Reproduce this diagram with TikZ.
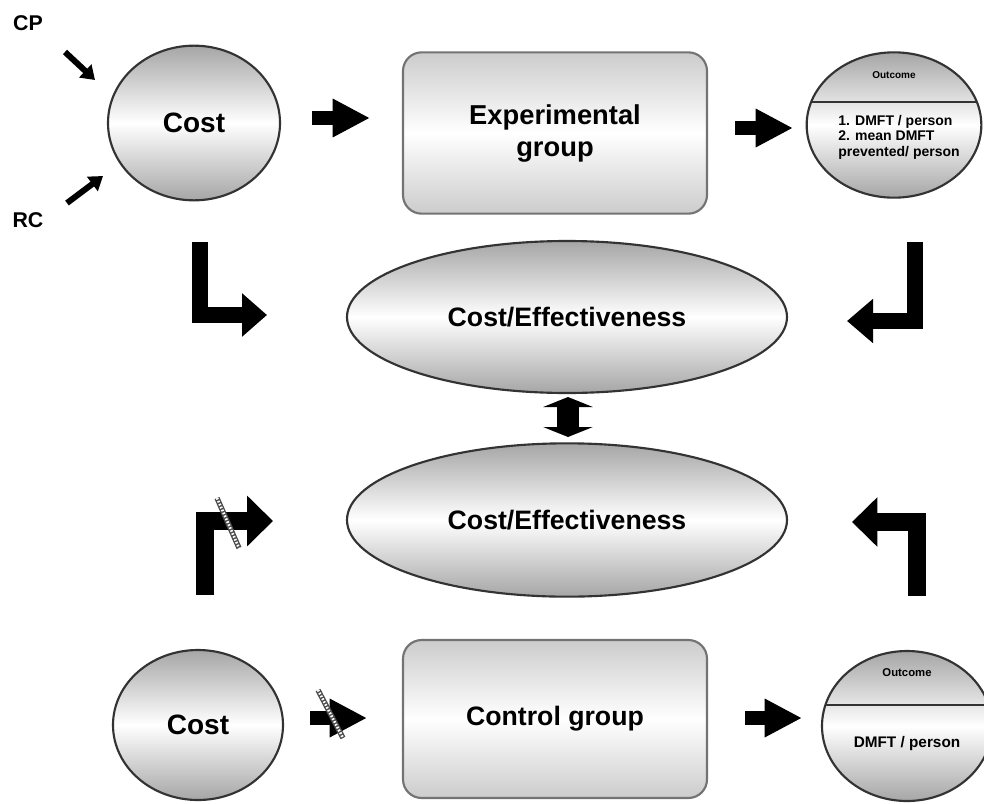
\documentclass[tikz,border=0pt]{standalone}
\usepackage{fontspec}
\setmainfont{Liberation Sans}
\usetikzlibrary{arrows.meta,shapes.geometric}

\tikzset{
  halftone/.style={shading=axis, top color=gray!70, bottom color=gray!70, middle color=white, draw=black!80, line width=1.6pt},
  oval/.style={halftone, ellipse, inner sep=0pt},
  roundbox/.style={halftone, top color=gray!40, bottom color=gray!40, middle color=white, draw=black!55, rectangle, rounded corners=14pt, inner sep=0pt},
  blk/.style={line width=10pt, -{Triangle[length=28pt,width=27pt]}},
  lbar/.style={line width=#1, line join=miter},
  thin arrow/.style={line width=4.5pt, -{Triangle[length=10pt,width=13pt]}},
  strike/.style={line width=4pt, draw=black!70},
  strikedots/.style={line width=2pt, draw=white, dash pattern=on 1.2pt off 1.2pt},
  big/.style={font=\fontsize{21}{24}\selectfont\bfseries},
  mid/.style={font=\fontsize{20}{24}\selectfont\bfseries},
}

\begin{document}
\begin{tikzpicture}[x=0.75pt,y=-0.75pt]
\useasboundingbox (0,0) rectangle (984,803);

% top row
\node[oval, big, minimum width=129pt, minimum height=116pt] (cost1) at (194,123) {Cost};
\node[roundbox, font=\fontsize{20.5}{24}\selectfont\bfseries, align=center, minimum width=228pt, minimum height=121pt] (exp) at (555,133) {Experimental\\group};
\node[oval, minimum width=131pt, minimum height=109pt] (out1) at (894,125) {};
\begin{scope}
  \clip (out1.center) ellipse [x radius=65.5pt, y radius=54.5pt];
  \draw[line width=1.6pt, black!80] (780,102) -- (1000,102);
\end{scope}
\node[font=\fontsize{7.5}{9}\selectfont\bfseries] (out1t) at (894,75) {Outcome};
\node[font=\fontsize{10.5}{11.6}\selectfont\bfseries, align=left] (out1b) at (899,137) {1. DMFT / person\\2. mean DMFT\\prevented/ person};

\node[font=\fontsize{16}{19}\selectfont\bfseries] (cp) at (28,23) {CP};
\node[font=\fontsize{16}{19}\selectfont\bfseries] (rc) at (28,220) {RC};
\coordinate (cpA) at (65,52);  \coordinate (cpB) at (95,80);
\coordinate (rcA) at (67,203); \coordinate (rcB) at (103,176);
\draw[thin arrow] (cpA) -- (cpB);
\draw[thin arrow] (rcA) -- (rcB);

\coordinate (a1s) at (312,118); \coordinate (a1e) at (370,118);
\coordinate (a2s) at (735,128); \coordinate (a2e) at (793,128);
\draw[blk] (a1s) -- (a1e);
\draw[blk] (a2s) -- (a2e);

% effectiveness
\node[oval, mid, minimum width=330pt, minimum height=114pt] (ce1) at (567,317) {Cost/Effectiveness};
\node[oval, mid, minimum width=330pt, minimum height=115pt] (ce2) at (567,520) {Cost/Effectiveness};
\coordinate (dA) at (568,397); \coordinate (dB) at (568,437);
\draw[line width=17pt, {Triangle[length=7.5pt,width=37pt]}-{Triangle[length=7.5pt,width=37pt]}] (dA) -- (dB);

\coordinate (l1s) at (200,242); \coordinate (l1e) at (267,315);
\coordinate (l2s) at (915,242); \coordinate (l2e) at (847,321);
\coordinate (l3s) at (205,595); \coordinate (l3e) at (273,521);
\coordinate (l4s) at (917,596); \coordinate (l4e) at (852,522);
\draw[lbar=12pt, -{Triangle[length=18.75pt,width=31.5pt]}] (l1s) |- (l1e);
\draw[lbar=11.5pt, -{Triangle[length=19.5pt,width=32pt]}] (l2s) |- (l2e);
\draw[lbar=14pt, -{Triangle[length=19.5pt,width=37pt]}] (l3s) |- (l3e);
\draw[lbar=14pt, -{Triangle[length=19pt,width=36pt]}] (l4s) |- (l4e);
\coordinate (s1a) at (217,498); \coordinate (s1b) at (239,548);
\draw[strike] (s1a) -- (s1b);
\draw[strikedots] (s1a) -- (s1b);

% bottom row
\node[oval, big, minimum width=127.5pt, minimum height=112.5pt] (cost2) at (198,725) {Cost};
\node[roundbox, mid, minimum width=228pt, minimum height=118.5pt] (ctrl) at (555,719) {Control group};
\node[oval, minimum width=127.5pt, minimum height=112.5pt] (out2) at (907,726) {};
\begin{scope}
  \clip (out2.center) ellipse [x radius=63.75pt, y radius=56.25pt];
  \draw[line width=1.6pt, black!80] (800,705) -- (1000,705);
\end{scope}
\node[font=\fontsize{8.5}{10}\selectfont\bfseries] (out2t) at (907,673) {Outcome};
\node[font=\fontsize{11.5}{13}\selectfont\bfseries] (out2b) at (907,744) {DMFT / person};

\coordinate (a3s) at (310,718); \coordinate (a3e) at (367,718);
\coordinate (a4s) at (745,718); \coordinate (a4e) at (802,718);
\draw[blk] (a3s) -- (a3e);
\draw[blk] (a4s) -- (a4e);
\coordinate (s2a) at (318,690); \coordinate (s2b) at (343,738);
\draw[strike] (s2a) -- (s2b);
\draw[strikedots] (s2a) -- (s2b);
\end{tikzpicture}
\end{document}
